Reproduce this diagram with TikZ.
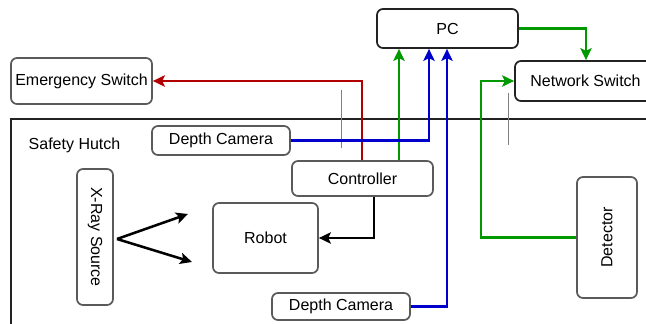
\documentclass[tikz,border=0pt]{standalone}
\usepackage{fontspec}
\setmainfont{Liberation Sans}
\usetikzlibrary{arrows.meta}
\definecolor{wred}{HTML}{B20000}
\definecolor{wgreen}{HTML}{009900}
\definecolor{wblue}{HTML}{0000CC}
\definecolor{boxgray}{HTML}{5A5A5A}
\definecolor{darkline}{HTML}{222222}
\begin{document}
\begin{tikzpicture}[x=0.75pt,y=-0.75pt,
  font=\fontsize{12}{14}\selectfont,
  box/.style={draw=boxgray, line width=1.3pt, rounded corners=4.5pt, fill=white,
              inner sep=0pt, align=center},
  darkbox/.style={box, draw=darkline},
  wire/.style={line width=1.9pt, -{Stealth[length=9pt,width=8.5pt,inset=2pt]}},
  tick/.style={draw=gray, line width=0.6pt}]
  \useasboundingbox (0,0) rectangle (646,324);
  \clip (0,0) rectangle (646,324);

  % safety hutch outline (runs off the right and bottom)
  \draw[darkline, line width=1.7pt] (11,400) -- (11,119) -- (700,119);
  \node[anchor=west] (hutch) at (24,145) {Safety Hutch};

  % components
  \node[darkbox, minimum width=141*0.75pt, minimum height=39*0.75pt] (pc) at (447.5,28.5) {PC};
  \node[box, minimum width=141*0.75pt, minimum height=46*0.75pt] (es) at (81.5,81) {Emergency Switch};
  \node[darkbox, minimum width=141*0.75pt, minimum height=40*0.75pt] (ns) at (585.5,81) {Network Switch};
  \node[box, minimum width=138*0.75pt, minimum height=29*0.75pt] (dc1) at (221,140.5) {Depth Camera};
  \node[box, minimum width=141*0.75pt, minimum height=35*0.75pt] (ctrl) at (362.5,178.5) {Controller};
  \node[box, minimum width=36*0.75pt, minimum height=136*0.75pt] (xray) at (95,237) {\rotatebox{-90}{X-Ray Source}};
  \node[box, minimum width=105*0.75pt, minimum height=70*0.75pt] (robot) at (265.5,238) {Robot};
  \node[box, minimum width=138*0.75pt, minimum height=27*0.75pt] (dc2) at (341,306.5) {Depth Camera};
  \node[box, minimum width=60*0.75pt, minimum height=121*0.75pt] (det) at (607,237.5) {\rotatebox{90}{Detector}};

  % routing columns
  \coordinate (xred) at (362,0);
  \coordinate (xgrn) at (399,0);
  \coordinate (xbl1) at (429,0);
  \coordinate (xbl2) at (447,0);
  \coordinate (xns) at (586,0);
  \coordinate (xdet) at (481,0);
  \coordinate (xrob) at (374,0);
  \coordinate (xo) at (117,239);
  \coordinate (beam1) at (188,214);
  \coordinate (beam2) at (192,262);

  % thin marker strokes
  \draw[tick] (341,90) -- (341,148);
  \draw[tick] (508,93) -- (508,145);

  % connections
  \draw[wire, wred] (ctrl.north -| xred) |- (es.east);
  \draw[wire, wgreen] (ctrl.north -| xgrn) -- (pc.south -| xgrn);
  \draw[wire, wblue] (dc1.east) -| (pc.south -| xbl1);
  \draw[wire, wblue] (dc2.east) -| (pc.south -| xbl2);
  \draw[wire, wgreen] (pc.east) -| (ns.north -| xns);
  \draw[wire, wgreen] (det.west) -| (xdet |- ns.west) -- (ns.west);
  \draw[wire, black] (ctrl.south -| xrob) |- (robot.east);
  \draw[wire, black] (xo) -- (beam1);
  \draw[wire, black] (xo) -- (beam2);
\end{tikzpicture}
\end{document}
